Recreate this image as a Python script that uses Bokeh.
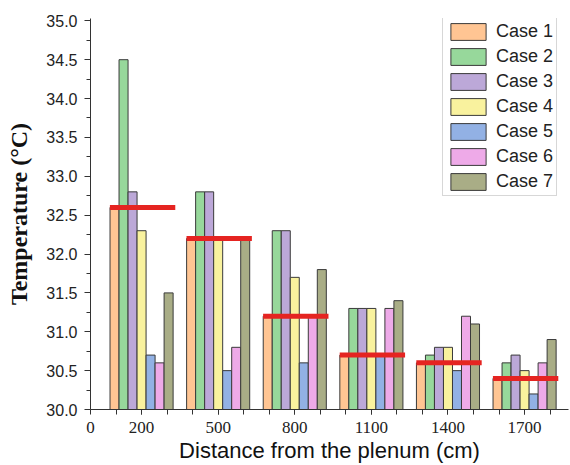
from bokeh.plotting import figure
from bokeh.models import Range1d, FixedTicker, Legend, LegendItem, ColumnDataSource, PrintfTickFormatter
from bokeh.transform import dodge
from bokeh.embed import file_html
from bokeh.resources import INLINE

distances = [200, 500, 800, 1100, 1400, 1700]
case_names = ["Case 1", "Case 2", "Case 3", "Case 4", "Case 5", "Case 6", "Case 7"]
case1 = [32.6, 32.2, 31.2, 30.7, 30.6, 30.4]
case2 = [34.5, 32.8, 32.3, 31.3, 30.7, 30.6]
case3 = [32.8, 32.8, 32.3, 31.3, 30.8, 30.7]
case4 = [32.3, 32.2, 31.7, 31.3, 30.8, 30.5]
case5 = [30.7, 30.5, 30.6, 30.7, 30.5, 30.2]
case6 = [30.6, 30.8, 31.2, 31.3, 31.2, 30.6]
case7 = [31.5, 32.2, 31.8, 31.4, 31.1, 30.9]
average = [32.6, 32.2, 31.2, 30.7, 30.6, 30.4]
x_tick_values = [0, 200, 500, 800, 1100, 1400, 1700]
y_tick_values = [30.0, 30.5, 31.0, 31.5, 32.0, 32.5, 33.0, 33.5, 34.0, 34.5, 35.0]

colors = ["#FFC593", "#97D89B", "#BCA8D8", "#F9F29E", "#92B1E4", "#EEAAE8", "#A9AD86"]
series = [case1, case2, case3, case4, case5, case6, case7]

bar_w = 35.3
base = 30.0

p = figure(width=570, height=465, output_backend="svg", toolbar_location=None,
           x_range=Range1d(0, 1872), y_range=Range1d(30.0, 35.03),
           min_border_left=90, min_border_right=2, min_border_top=18, min_border_bottom=55)
p.outline_line_color = None
p.grid.visible = False
p.background_fill_color = "white"

data = {"x": distances, "avg": average,
        "x0": [d - 124 for d in distances], "x1": [d + 132 for d in distances]}
for i, s in enumerate(series):
    data["c%d" % i] = s
src = ColumnDataSource(data)

items = []
for i in range(7):
    r = p.vbar(x=dodge("x", (i - 3) * bar_w, range=p.x_range), top="c%d" % i, bottom=base,
               width=bar_w, source=src, fill_color=colors[i], line_color="#3a3a3a", line_width=1)
    items.append(LegendItem(label=case_names[i], renderers=[r]))

p.segment(x0="x0", x1="x1", y0="avg", y1="avg", source=src,
          line_color="#E52421", line_width=5, line_cap="butt")

legend = Legend(items=items, location=(352, 213),
                glyph_width=44, glyph_height=21, spacing=4, padding=3, margin=0,
                label_standoff=6, label_text_font="Liberation Sans", label_text_font_size="18px",
                label_text_color="#222222", label_height=21,
                border_line_color="#b0b0b0", border_line_width=1, background_fill_alpha=1)
p.add_layout(legend, "center")

xa = p.xaxis[0]
xa.ticker = FixedTicker(ticks=x_tick_values, minor_ticks=list(range(100, 1900, 100)))
xa.axis_label = "Distance from the plenum (cm)"
xa.axis_label_text_font = "Liberation Sans"
xa.axis_label_text_font_style = "normal"
xa.axis_label_text_font_size = "22px"
xa.axis_label_text_color = "#111111"
xa.axis_label_standoff = 2
xa.major_label_text_font = "Liberation Serif"
xa.major_label_text_font_size = "17px"
xa.major_label_text_color = "#222222"
xa.major_label_standoff = 7
xa.major_tick_out = 5
xa.major_tick_in = 0
xa.minor_tick_out = 5
xa.minor_tick_in = 0
xa.axis_line_color = "#333333"
xa.major_tick_line_color = "#333333"
xa.minor_tick_line_color = "#333333"

ya = p.yaxis[0]
ya.ticker = FixedTicker(ticks=y_tick_values,
                        minor_ticks=[30.25, 30.75, 31.25, 31.75, 32.25, 32.75, 33.25, 33.75, 34.25, 34.75])
ya.formatter = PrintfTickFormatter(format="%.1f")
ya.axis_label = "Temperature (°C)"
ya.axis_label_text_font = "Liberation Serif"
ya.axis_label_text_font_style = "bold"
ya.axis_label_text_font_size = "24px"
ya.axis_label_text_color = "#111111"
ya.axis_label_standoff = 11
ya.major_label_text_font = "Liberation Sans"
ya.major_label_text_font_size = "16px"
ya.major_label_text_color = "#222222"
ya.major_label_standoff = 7
ya.major_tick_out = 6
ya.major_tick_in = 0
ya.minor_tick_out = 4
ya.minor_tick_in = 0
ya.axis_line_color = "#333333"
ya.major_tick_line_color = "#333333"
ya.minor_tick_line_color = "#333333"

open("out.html", "w").write(file_html(p, INLINE))
